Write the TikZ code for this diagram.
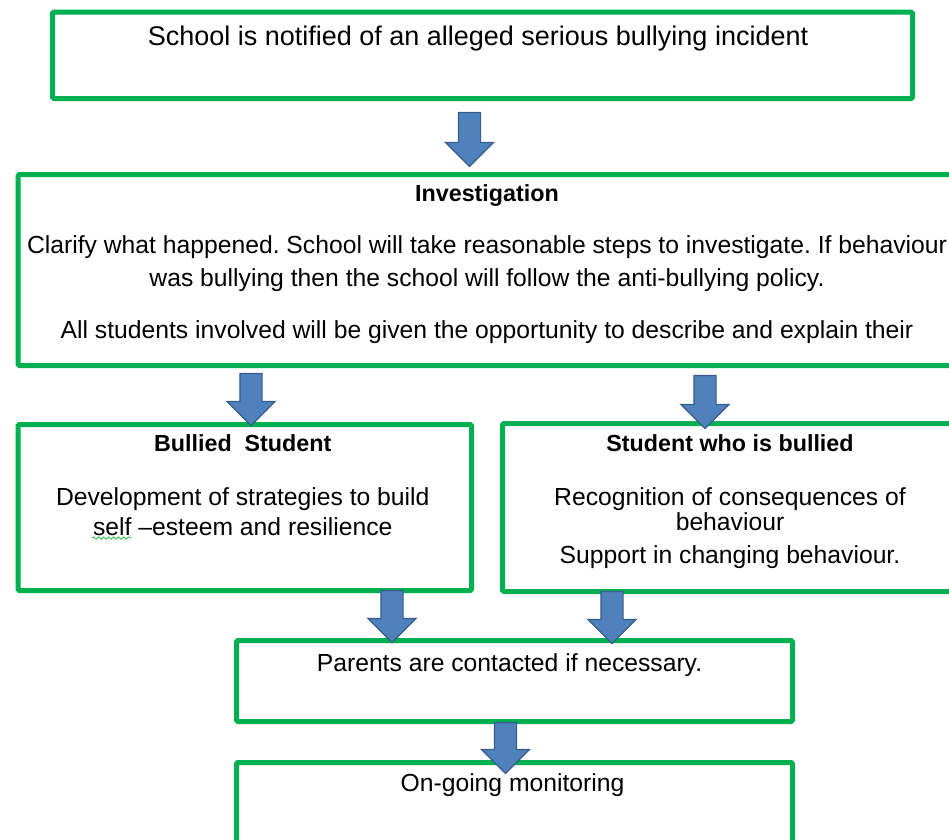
\documentclass[tikz,border=0pt]{standalone}
\usepackage{fontspec}
\setmainfont{Liberation Sans}
\usepackage{xcolor}
\usetikzlibrary{positioning, calc, shapes.arrows, decorations.pathmorphing}
\definecolor{boxgreen}{HTML}{00B050}
\definecolor{arrowfill}{HTML}{4F81BD}
\definecolor{arrowline}{HTML}{385D8A}
\newcommand{\boxhead}[1]{{\fontsize{23.3}{30}\selectfont\bfseries #1}}
\frenchspacing

\begin{document}
\begin{tikzpicture}[x=1pt, y=-1pt]
            % Styles
            \tikzstyle{stage} = [rectangle, draw=boxgreen, line width=5pt, rounded corners=1.5pt, inner sep=0pt, anchor=north west]
            \tikzstyle{boxtext} = [align=center, anchor=base, inner sep=0pt, font=\fontsize{24.7}{30}\selectfont]
            \tikzstyle{downarrow} = [single arrow, draw=arrowline, fill=arrowfill, line width=1.2pt, rotate=-90, minimum width=47pt, single arrow head extend=13pt, inner xsep=0pt, inner ysep=10.5pt]

            \useasboundingbox (0,0) rectangle (949,839);

            % Boxes
            \node[stage, minimum width=860pt, minimum height=86.5pt] (notified) at (50,9.5) {};
            \node[stage, minimum width=940pt, minimum height=191pt] (investigation) at (15.5,172) {};
            \node[stage, minimum width=453.5pt, minimum height=166pt] (bullied) at (15.5,422) {};
            \node[stage, minimum width=455pt, minimum height=168pt] (bully) at (500,421) {};
            \node[stage, minimum width=556pt, minimum height=81pt] (parents) at (234,638) {};
            \node[stage, minimum width=556pt, minimum height=90pt] (monitoring) at (234,760) {};

            % Texts (base = last line)
            \node[boxtext, font=\fontsize{27}{31}\selectfont] (notified_text) at ([xshift=-4.5pt, yshift=-35.5pt]notified.north) {School is notified of an alleged serious bullying incident};
            \node[boxtext, font=\fontsize{24.7}{33}\selectfont] (investigation_text) at ([xshift=-1pt, yshift=-166pt]investigation.north)
                {\boxhead{Investigation}\\[19pt]
                 Clarify what happened. School will take reasonable steps to investigate. If behaviour\\
                 was bullying then the school will follow the anti-bullying policy.\\[19pt]
                 All students involved will be given the opportunity to describe and explain their};
            \node[boxtext] (bullied_text) at ([xshift=-2pt, yshift=-113pt]bullied.north)
                {\boxhead{Bullied\ \ Student}\\[24pt]
                 Development of strategies to build\\
                 self --esteem and resilience};
            \node[boxtext] (bully_text) at ([yshift=-142pt]bully.north)
                {\boxhead{Student who is bullied}\\[24pt]
                 Recognition of consequences of\\[-5pt]
                 behaviour\\[3pt]
                 Support in changing behaviour.};
            \node[boxtext] (parents_text) at ([xshift=-5pt, yshift=-33pt]parents.north) {Parents are contacted if necessary.};
            \node[boxtext] (monitoring_text) at ([xshift=-2pt, yshift=-31pt]monitoring.north) {On-going monitoring};

            % Spelling mark under "self"
            \draw[boxgreen!80!lime, line width=0.8pt, decorate, decoration={snake, amplitude=1.2pt, segment length=5pt}] (92,538) -- (132,538);

            % Arrows
            \node[downarrow, minimum height=54pt] (arrow_investigation) at (469.5,134) {};
            \node[downarrow, minimum height=52pt] (arrow_bullied) at (251,394) {};
            \node[downarrow, minimum height=53pt] (arrow_bully) at (705,396.5) {};
            \node[downarrow, minimum height=52pt] (arrow_parents_left) at (392,611) {};
            \node[downarrow, minimum height=52pt] (arrow_parents_right) at (612,612) {};
            \node[downarrow, minimum height=51pt] (arrow_monitoring) at (505.5,742.5) {};
        \end{tikzpicture}
\end{document}
